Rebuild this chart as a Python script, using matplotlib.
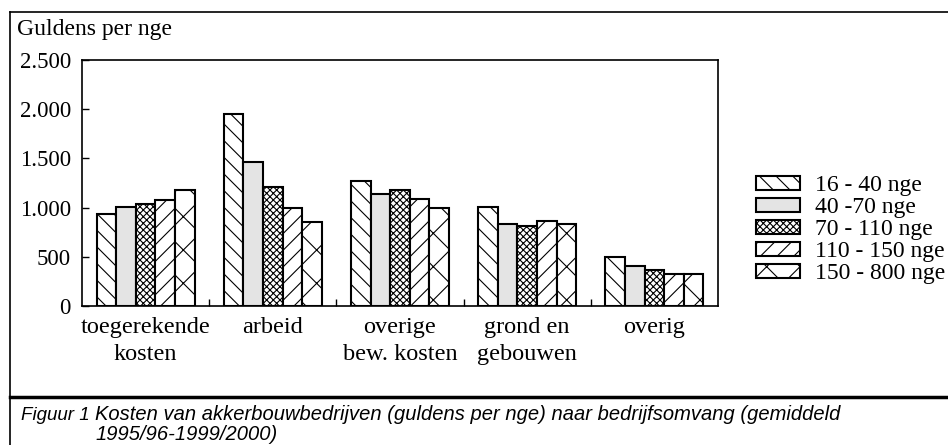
import matplotlib
matplotlib.use('Agg')
import matplotlib.pyplot as plt
import numpy as np
from matplotlib.lines import Line2D

categories = ['toegerekende\nkosten', 'arbeid', 'overige\nbew. kosten', 'grond en\ngebouwen', 'overig']
series_names = ['16 - 40 nge', '40 -70 nge', '70 - 110 nge', '110 - 150 nge', '150 - 800 nge']
v_16_40 = [933, 1955, 1268, 1005, 493]
v_40_70 = [1010, 1464, 1140, 838, 405]
v_70_110 = [1035, 1210, 1180, 808, 365]
v_110_150 = [1075, 1000, 1092, 865, 321]
v_150_800 = [1175, 850, 994, 838, 321]
series = [v_16_40, v_40_70, v_70_110, v_110_150, v_150_800]
y_ticks = [0, 500, 1000, 1500, 2000, 2500]
y_labels = ['0', '500', '1.000', '1.500', '2.000', '2.500']

hatches = ['\\\\', '', 'xxxxx', '//', 'x']
fills = ['white', '#e4e4e4', 'white', 'white', 'white']

plt.rcParams['font.family'] = ['Liberation Serif', 'DejaVu Serif']
plt.rcParams['hatch.linewidth'] = 0.8

fig = plt.figure(figsize=(9.48, 4.45), dpi=100)
ax = fig.add_axes([82 / 948, 1 - 306 / 445, 636 / 948, 246 / 445])

x = np.arange(len(categories))
w = 0.154
for i, vals in enumerate(series):
    ax.bar(x + (i - 2) * w, vals, width=w, color=fills[i], edgecolor='black',
           hatch=hatches[i], linewidth=1.5, label=series_names[i])

ax.set_xlim(-0.5, len(categories) - 0.5)
ax.set_ylim(0, 2500)
ax.set_yticks(y_ticks)
ax.set_yticklabels(y_labels, fontsize=16.5)
ax.set_xticks(x[:-1] + 0.5)
ax.set_xticklabels([])
ax.tick_params(axis='y', direction='in', length=5, width=1, pad=8)
ax.tick_params(axis='x', direction='in', length=5, width=1)
for s in ax.spines.values():
    s.set_linewidth(1.2)

for xi, lab in zip(x, categories):
    ax.text(xi, -115, lab, ha='center', va='top', fontsize=17.5, linespacing=1.35)

fig.text(17 / 948, 1 - 29 / 445, 'Guldens per nge', fontsize=17, va='center', ha='left')

ax.legend(loc='center left', bbox_to_anchor=(1.0597, 0.31), frameon=False, fontsize=17,
          handlelength=1.86, handleheight=0.55, handletextpad=0.62, labelspacing=0.04,
          borderaxespad=0, borderpad=0)

# outer frame and caption separator
fig.add_artist(Line2D([10 / 948, 10 / 948], [0, 1 - 12 / 445], color='black', lw=1.2))
fig.add_artist(Line2D([10 / 948, 1], [1 - 12 / 445, 1 - 12 / 445], color='black', lw=1.2))
fig.add_artist(Line2D([10 / 948, 1], [1 - 397 / 445, 1 - 397 / 445], color='black', lw=2.5))

cap_font = ['Liberation Sans Narrow', 'Liberation Sans', 'DejaVu Sans']
fig.text(21 / 948, 1 - 415 / 445, 'Figuur 1', fontsize=13.5, style='italic', family=cap_font, va='center')
fig.text(95 / 948, 1 - 415 / 445,
         'Kosten van akkerbouwbedrijven (guldens per nge) naar bedrijfsomvang (gemiddeld',
         fontsize=14.5, style='italic', family=cap_font, va='center')
fig.text(95 / 948, 1 - 434 / 445, '1995/96-1999/2000)',
         fontsize=14.5, style='italic', family=cap_font, va='center')

fig.savefig('out.png', dpi=100)
